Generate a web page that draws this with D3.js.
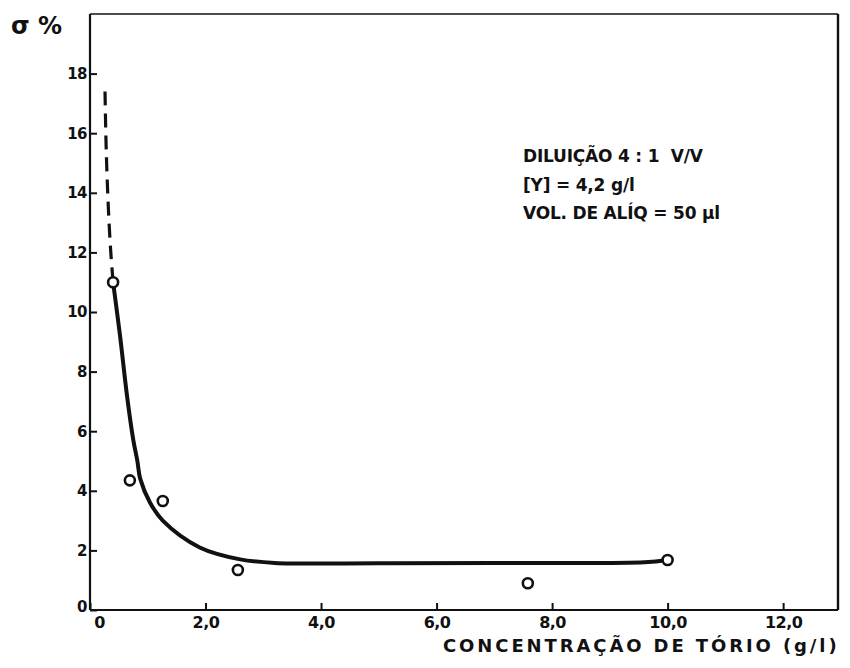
<!DOCTYPE html>
<html>
<head>
<meta charset="utf-8">
<script src="https://cdn.jsdelivr.net/npm/d3@7"></script>
<style>
  html, body { margin: 0; padding: 0; background: #fff; }
  svg { display: block; }
  text { font-family: "DejaVu Sans", "Liberation Sans", sans-serif; font-weight: bold; fill: #111; }
</style>
</head>
<body>
<svg id="chart" width="850" height="668"></svg>
<script>
// Measured points: thorium concentration (g/l) vs relative standard deviation (%)
const concentration = [0.4, 0.69, 1.26, 2.56, 7.58, 10.0];
const sigmaPct      = [11.0, 4.35, 3.66, 1.34, 0.90, 1.68];

// Hand-fitted trend curve (solid part)
const fitX = [0.4, 0.52, 0.64, 0.75, 0.82, 0.87, 1.04, 1.26, 1.9, 2.6, 3.2, 5.0, 7.0, 9.6, 10.0];
const fitY = [11.0, 9.2, 7.2, 5.7, 5.0, 4.4, 3.6, 3.0, 2.1, 1.7, 1.58, 1.57, 1.58, 1.6, 1.68];

// Extrapolated (dashed) part towards low concentration
const extX = [0.26, 0.28, 0.32, 0.36, 0.4];
const extY = [17.4, 15.5, 13.4, 12.0, 11.0];

// Axis ticks
const xTicks = [0, 2, 4, 6, 8, 10, 12];
const yTicks = [0, 2, 4, 6, 8, 10, 12, 14, 16, 18];

const notes = ["DILUIÇÃO 4 : 1  V/V", "[Y] = 4,2 g/l", "VOL. DE ALÍQ = 50 µl"];

const svg = d3.select("#chart");
const x = d3.scaleLinear().domain([0, 12.95]).range([90, 838]);
const y = d3.scaleLinear().domain([0, 20]).range([610, 14]);

// Frame
const [x0, x1] = x.range();
const [y0, y1] = y.range();
svg.append("line").attr("x1", x0).attr("x2", x0).attr("y1", y0).attr("y2", y1)
  .attr("stroke", "#111").attr("stroke-width", 2.2);
svg.append("line").attr("x1", x0).attr("x2", x1).attr("y1", y1).attr("y2", y1)
  .attr("stroke", "#111").attr("stroke-width", 1.6);
svg.append("line").attr("x1", x1).attr("x2", x1).attr("y1", y1).attr("y2", y0)
  .attr("stroke", "#111").attr("stroke-width", 2.4);
svg.append("line").attr("x1", x0).attr("x2", x1).attr("y1", y0).attr("y2", y0)
  .attr("stroke", "#111").attr("stroke-width", 1.8);

// X axis (ticks pointing inward)
const fmt = d => d === 0 ? "0" : d.toFixed(1).replace(".", ",");
const gx = svg.append("g").attr("transform", `translate(0,${y0})`)
  .call(d3.axisBottom(x).tickValues(xTicks).tickSize(-7).tickFormat(fmt));
gx.select(".domain").remove();
gx.selectAll(".tick line").attr("stroke", "#111").attr("stroke-width", 2);
gx.selectAll(".tick text").attr("y", 7).attr("dy", "0.71em")
  .style("font-size", "16px").style("letter-spacing", "-0.5px").attr("fill", "#111")
  .attr("dx", d => d === 0 ? 9 : 0);

// Y axis (ticks pointing inward)
const gy = svg.append("g").attr("transform", `translate(${x0},0)`)
  .call(d3.axisLeft(y).tickValues(yTicks).tickSize(-7).tickFormat(d3.format("d")));
gy.select(".domain").remove();
gy.selectAll(".tick line").attr("stroke", "#111").attr("stroke-width", 2);
gy.selectAll(".tick text").attr("x", -3).attr("dy", d => d === 0 ? "0.1em" : "0.32em")
  .style("font-size", "15px").style("letter-spacing", "-0.5px").attr("fill", "#111");

// Axis titles
svg.append("text").attr("x", 11).attr("y", 34)
  .style("font-size", "24px").text("σ %");
svg.append("text").attr("x", 443).attr("y", 652)
  .style("font-size", "18px").style("letter-spacing", "2.9px")
  .text("CONCENTRAÇÃO DE TÓRIO (g/l)");

// Curves
const lineV = d3.line().x(d => x(d[0])).y(d => y(d[1])).curve(d3.curveCatmullRom);
svg.append("path").datum(extX.map((v, i) => [v, extY[i]]))
  .attr("d", lineV).attr("fill", "none").attr("stroke", "#111")
  .attr("stroke-width", 3.2).attr("stroke-dasharray", "14,8");
svg.append("path").datum(fitX.map((v, i) => [v, fitY[i]]))
  .attr("d", lineV).attr("fill", "none").attr("stroke", "#111")
  .attr("stroke-width", 4).attr("stroke-linejoin", "round");

// Data points
svg.append("g").selectAll("circle")
  .data(concentration.map((v, i) => [v, sigmaPct[i]]))
  .join("circle")
  .attr("cx", d => x(d[0])).attr("cy", d => y(d[1])).attr("r", 5)
  .attr("fill", "#fff").attr("stroke", "#111").attr("stroke-width", 2.6);

// Annotation block
svg.append("g").selectAll("text").data(notes).join("text")
  .attr("x", 523).attr("y", (d, i) => 162 + i * 28.5)
  .style("font-size", "17px").style("letter-spacing", "-0.2px")
  .attr("xml:space", "preserve")
  .text(d => d);
</script>
</body>
</html>
